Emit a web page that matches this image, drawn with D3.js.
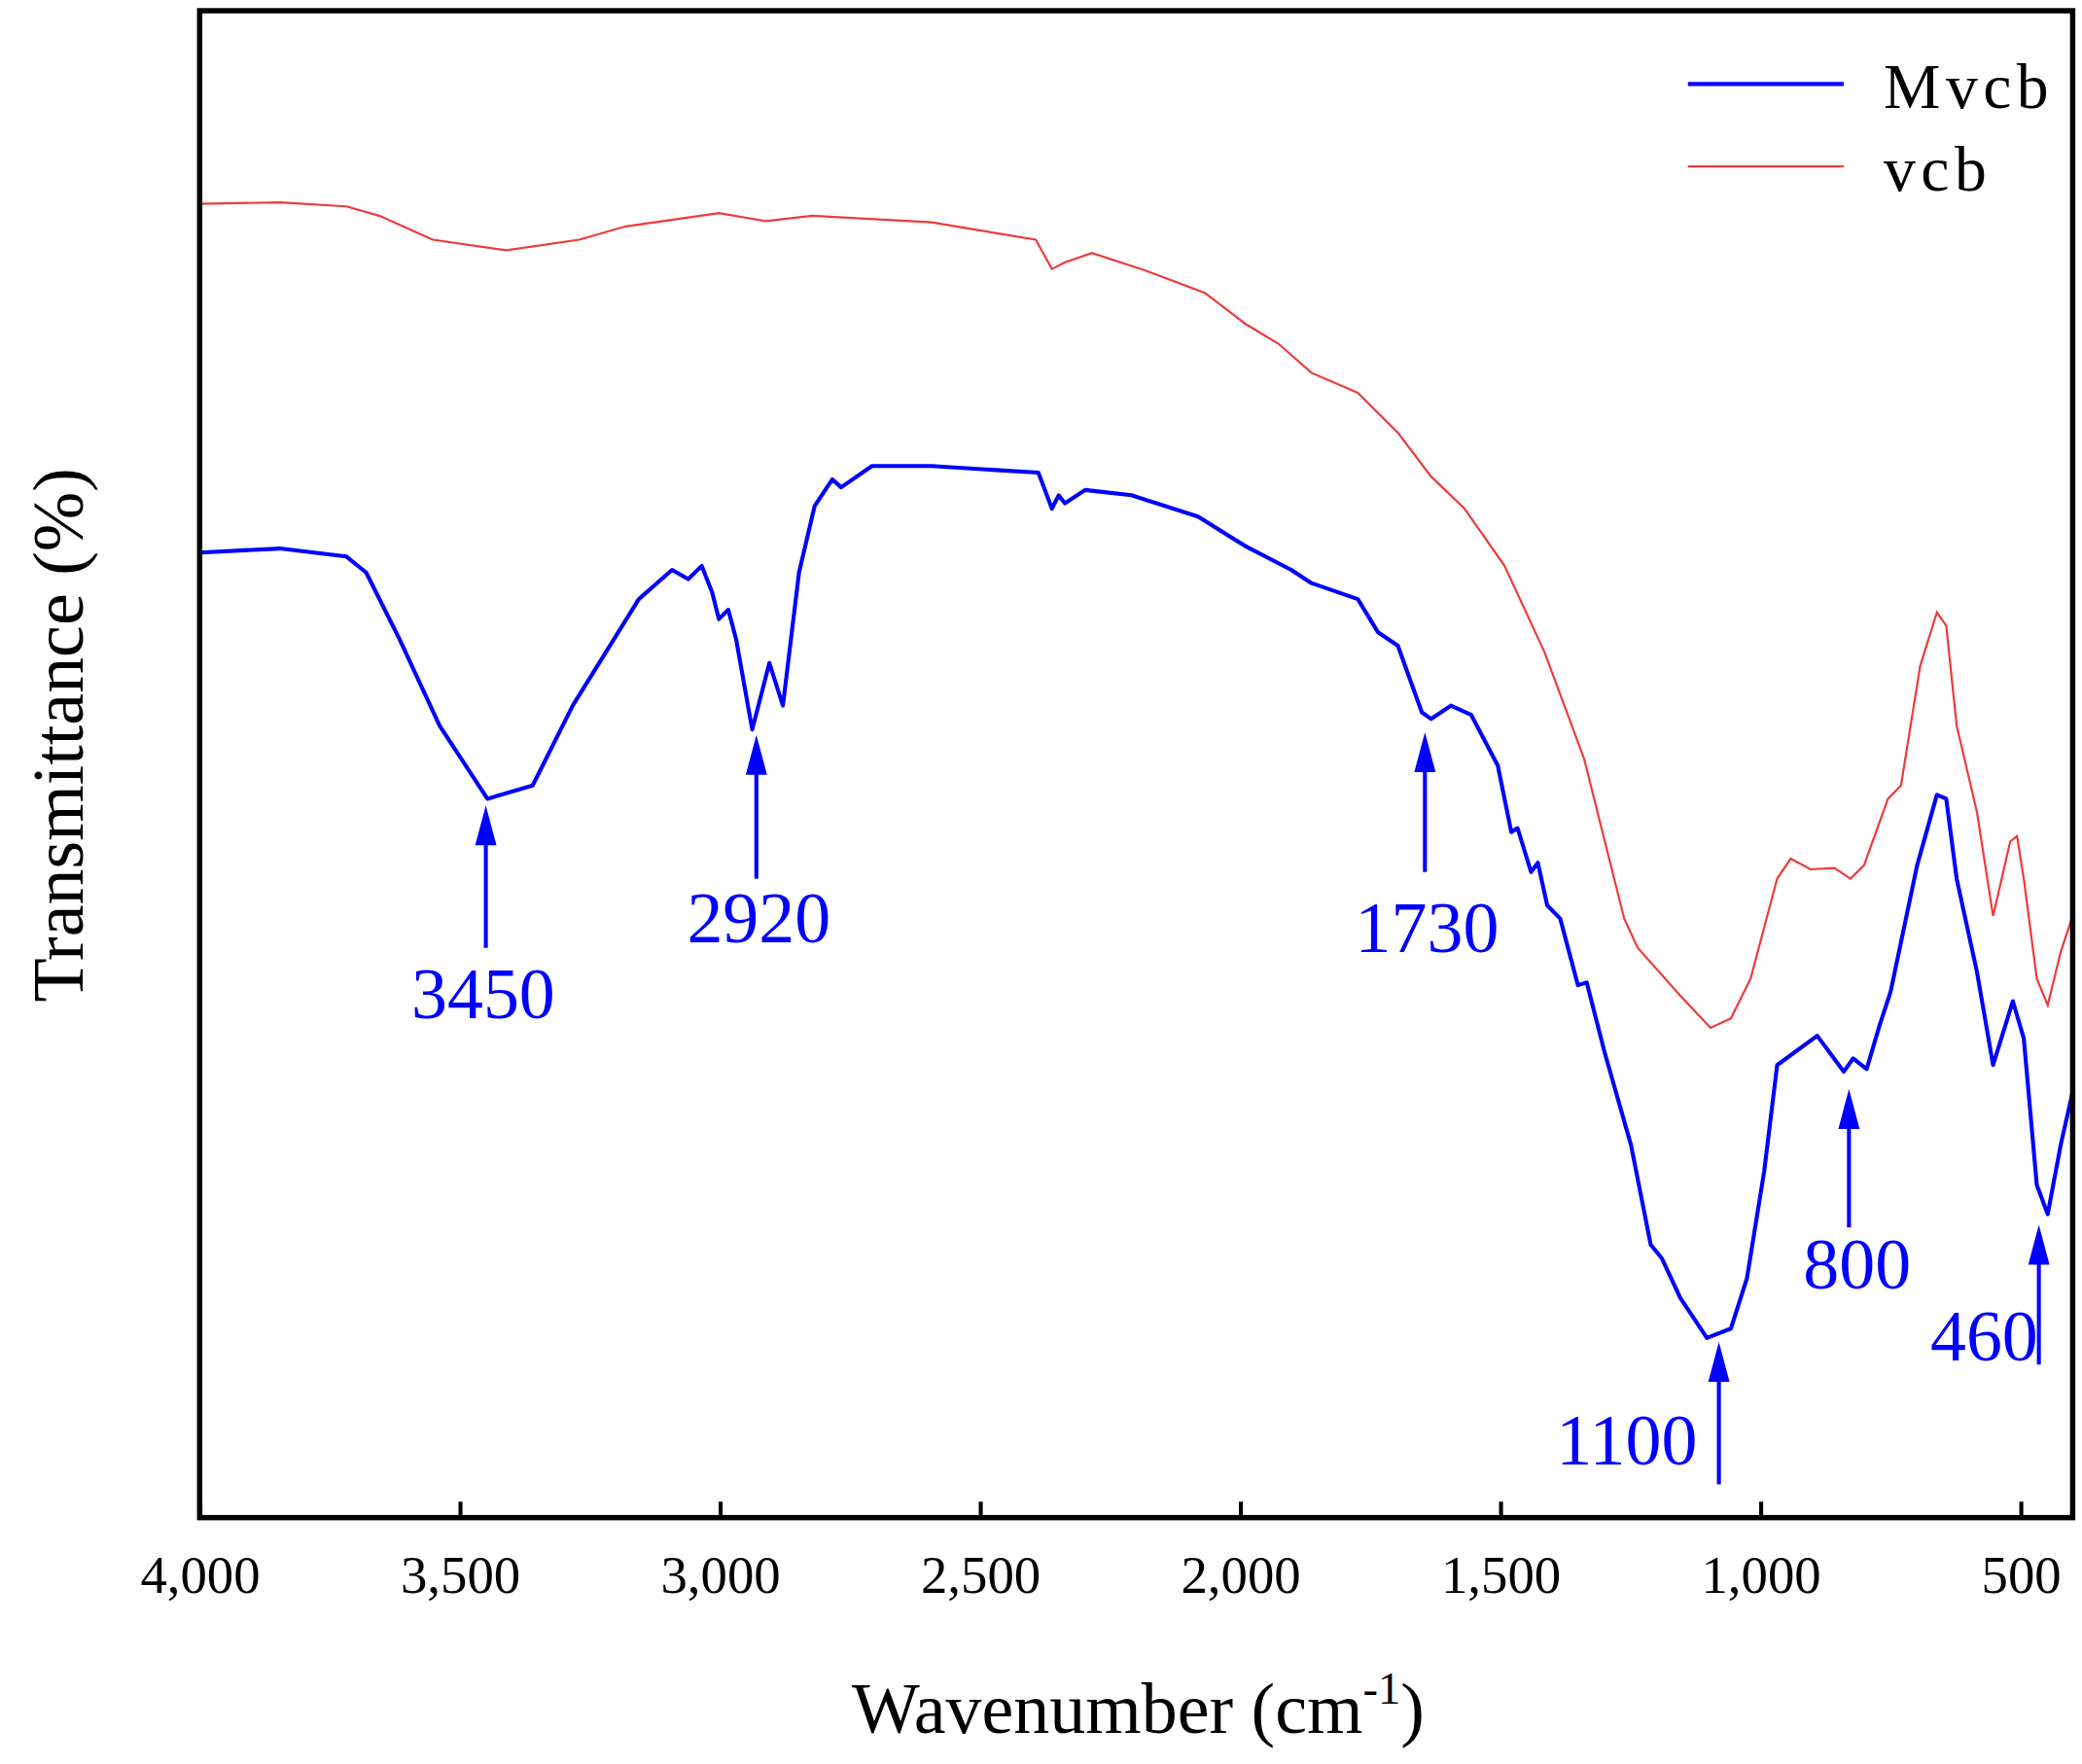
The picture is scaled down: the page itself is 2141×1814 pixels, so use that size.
<!DOCTYPE html>
<html>
<head>
<meta charset="utf-8">
<script src="https://cdn.jsdelivr.net/npm/d3@7"></script>
<style>
  body { margin: 0; background: #fff; }
  text { font-family: "Liberation Serif", "DejaVu Serif", serif; }
</style>
</head>
<body>
<svg id="chart"></svg>
<script>
// wavenumber (cm-1) and transmittance (a.u.)
const mvcbWave = [4000,3846,3718,3680,3616,3539,3447,3360,3283,3156,3092,3061,3035,3015,3002,2984,2969,2938,2905,2879,2848,2818,2784,2767,2708,2593,2388,2362,2349,2337,2298,2209,2081,1991,1902,1863,1774,1735,1697,1651,1633,1595,1556,1505,1479,1467,1441,1428,1410,1385,1351,1334,1300,1249,1211,1190,1154,1103,1057,1026,993,968,891,840,822,796,771,750,699,661,643,623,584,553,515,494,469,448,423,400];
const mvcbT = [725,728,722,710,660,595,540,550,610,690,712,705,715,695,675,682,660,592,642,610,710,760,780,774,790,790,785,758,768,762,772,768,752,730,712,702,690,665,655,605,600,610,603,565,515,518,485,492,460,450,400,402,350,280,205,195,165,135,142,180,260,340,362,335,345,337,370,395,490,543,540,480,410,340,388,360,250,228,280,320];

const vcbWave = [4000,3846,3718,3655,3552,3411,3271,3181,3002,2912,2823,2593,2393,2362,2337,2285,2183,2068,1991,1927,1863,1774,1697,1633,1569,1492,1415,1339,1262,1236,1154,1096,1057,1019,968,942,904,858,827,801,755,730,693,661,643,623,584,553,520,507,494,469,448,423,400];
const vcbT = [987,988,985,978,960,952,960,970,980,974,978,973,960,938,943,950,937,920,897,882,860,845,815,782,758,715,650,570,450,428,392,368,375,405,480,495,487,488,480,490,540,550,640,680,670,595,530,452,508,512,480,405,385,425,452];

const xTicks = [4000,3500,3000,2500,2000,1500,1000,500];

// peak labels: wavenumber position, arrow tip, arrow tail, label text
const peakPos = [3450, 2930, 1645, 1080, 830, 465];
const peakTip = [535, 588, 590, 132, 322, 220];
const peakTail = [428, 480, 485, 25, 218, 115];
const peakText = ["3450", "2920", "1730", "1100", "800", "460"];

const W = 1564, H = 1325;
const margin = {top: 8, right: 7, bottom: 185, left: 150};
const iw = W - margin.left - margin.right;
const ih = H - margin.top - margin.bottom;

const svg = d3.select('#chart')
    .attr('width', 2141).attr('height', 1814)
    .attr('viewBox', `0 0 ${W} ${H}`);

const chart = svg.append('g')
    .attr('transform', `translate(${margin.left}, ${margin.top})`);

const xscale = d3.scaleLinear().domain([4000, 400]).range([0, iw]);
const yscale = d3.scaleLinear().domain([0, 1132]).range([ih, 0]);

const line = d3.line().x(d => xscale(d[0])).y(d => yscale(d[1]));

chart.append('path')
    .datum(d3.zip(vcbWave, vcbT))
    .attr('fill', 'none').attr('stroke', '#ee3a3a').attr('stroke-width', 1.6)
    .attr('d', line);

chart.append('path')
    .datum(d3.zip(mvcbWave, mvcbT))
    .attr('fill', 'none').attr('stroke', '#0000ff').attr('stroke-width', 3)
    .attr('stroke-linejoin', 'round')
    .attr('d', line);

// x axis, ticks pointing inward
const xaxis = d3.axisBottom(xscale).tickValues(xTicks).tickSize(-12).tickSizeOuter(0).tickPadding(28);
const xg = chart.append('g').attr('transform', `translate(0, ${ih})`).call(xaxis);
xg.select('.domain').remove();
xg.selectAll('line').attr('stroke', '#000').attr('stroke-width', 3);
xg.selectAll('text').attr('font-size', 40).attr('fill', '#000')
    .style('font-family', '"Liberation Serif", serif');

// frame
chart.append('rect')
    .attr('width', iw).attr('height', ih)
    .attr('fill', 'none').attr('stroke', '#000').attr('stroke-width', 4);

// peak arrows
peakPos.forEach((p, i) => {
    const x = xscale(p);
    const tip = yscale(peakTip[i]), tail = yscale(peakTail[i]);
    chart.append('line')
        .attr('x1', x).attr('x2', x).attr('y1', tail).attr('y2', tip + 20)
        .attr('stroke', '#0000ff').attr('stroke-width', 3);
    chart.append('path')
        .attr('d', `M${x},${tip} L${x - 8},${tip + 30} L${x + 8},${tip + 30} Z`)
        .attr('fill', '#0000ff');
});

const labelSpots = [
    {x: 363, y: 765, a: 'middle'},
    {x: 570, y: 708, a: 'middle'},
    {x: 1072, y: 715, a: 'middle'},
    {x: 1275, y: 1100, a: 'end'},
    {x: 1395, y: 968, a: 'middle'},
    {x: 1531, y: 1022, a: 'end'}
];
peakText.forEach((t, i) => {
    svg.append('text')
        .attr('x', labelSpots[i].x).attr('y', labelSpots[i].y)
        .attr('text-anchor', labelSpots[i].a)
        .attr('font-size', 54).attr('fill', '#0000ff')
        .text(t);
});

// legend
const legend = [
    {name: 'Mvcb', color: '#0000ff', w: 3, y: 63},
    {name: 'vcb', color: '#ee3a3a', w: 1.6, y: 125}
];
legend.forEach(l => {
    svg.append('line')
        .attr('x1', 1268).attr('x2', 1385).attr('y1', l.y).attr('y2', l.y)
        .attr('stroke', l.color).attr('stroke-width', l.w);
    svg.append('text')
        .attr('x', 1415).attr('y', l.y + 18)
        .attr('font-size', 48).attr('letter-spacing', 4)
        .text(l.name);
});

// axis titles
const xt = svg.append('text')
    .attr('x', 855).attr('y', 1302).attr('text-anchor', 'middle')
    .attr('font-size', 54);
xt.append('tspan').text('Wavenumber (cm');
xt.append('tspan').attr('dy', -22).attr('font-size', 34).text('-1');
xt.append('tspan').attr('dy', 22).text(')');

svg.append('text')
    .attr('transform', 'translate(62, 552) rotate(-90)')
    .attr('text-anchor', 'middle').attr('font-size', 54)
    .text('Transmittance (%)');
</script>
</body>
</html>
